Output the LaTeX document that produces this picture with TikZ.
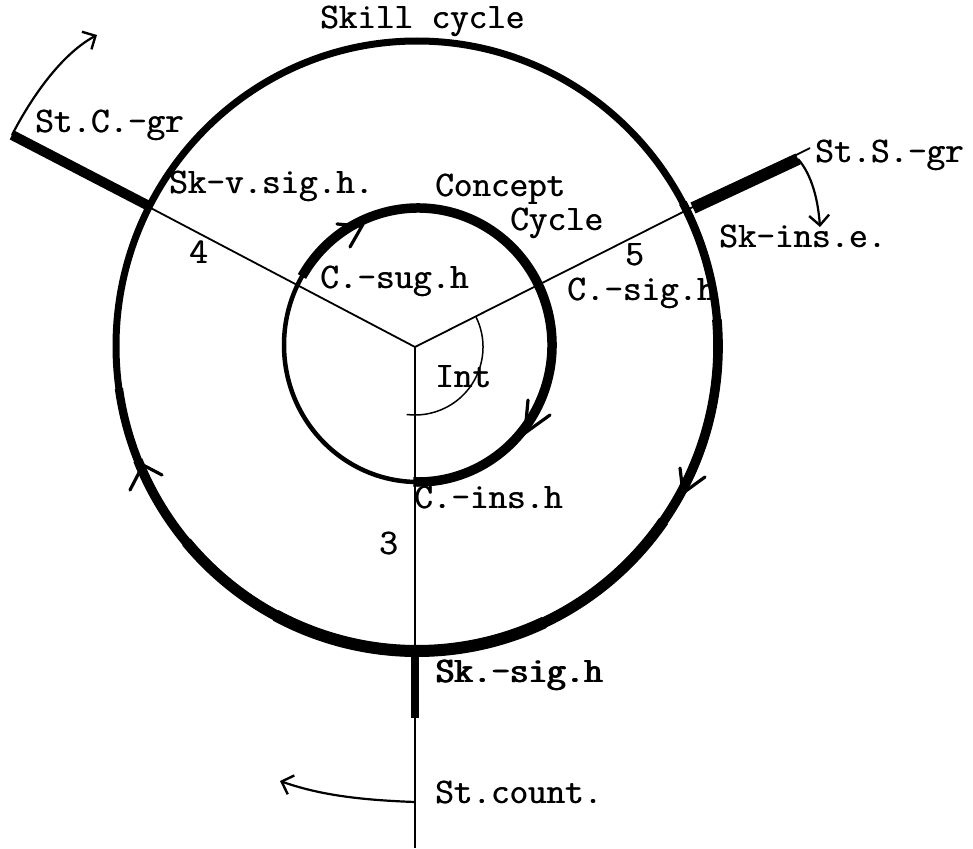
\documentclass[tikz,border=0pt]{standalone}
\usepackage{fontspec}
\usetikzlibrary{arrows.meta,calc}
\newcommand\twtext[1]{\makebox[0pt][l]{#1}\hspace*{0.7pt}#1}
\newcommand\twbold[1]{\makebox[0pt][l]{#1}\hspace*{0.9pt}\makebox[0pt][l]{#1}\hspace*{0.7pt}#1}
\tikzset{
  lbl/.style={anchor=base west, inner sep=0pt, font=\fontsize{36}{40}\selectfont\ttfamily},
  spoke/.style={line width=1.8pt},
  chev/.style={line width=3.2pt, line cap=round},
  pointer/.style={line width=2.2pt, -{Straight Barb[length=10pt,width=20pt,line width=2.4pt]}},
}
\begin{document}
\begin{tikzpicture}[x=1pt,y=1pt]
\useasboundingbox (0,0) rectangle (973,-848);
\coordinate (C) at (415,-347);
\coordinate (O) at (417,-346);
\coordinate (I) at (418,-345);
\coordinate (ULend) at (12,-135);
\coordinate (URend) at (810,-148);
\coordinate (Dend) at (415,-848);
\coordinate (ULx) at (147,-205);
\coordinate (URx) at (693,-208);
\coordinate (URthick) at (798,-159);
\coordinate (Dx) at (415,-652);
\coordinate (Dthick) at (415,-718);
\coordinate (cnt) at (415,-802);

% spokes
\draw[spoke] (C) -- (ULend);
\draw[spoke] (C) -- (URend);
\draw[spoke] (C) -- (Dend);

% outer (skill) cycle, thickening towards the bottom
\draw[line width=7pt] (O) ellipse [x radius=301, y radius=305];
\draw[line width=8.3pt] ($(O)+(28:301 and 305)$) arc[start angle=28, end angle=-172, x radius=301, y radius=305];
\draw[line width=9.6pt] ($(O)+(5:301 and 305)$) arc[start angle=5, end angle=-158, x radius=301, y radius=305];
\draw[line width=10.8pt] ($(O)+(-35:301 and 305)$) arc[start angle=-35, end angle=-140, x radius=301, y radius=305];
\draw[line width=12pt] ($(O)+(-65:301 and 305)$) arc[start angle=-65, end angle=-118, x radius=301, y radius=305];

% inner (concept) cycle
\draw[line width=4.5pt] (I) ellipse [x radius=134, y radius=137];
\draw[line width=9.5pt] ($(I)+(150:134 and 137)$) arc[start angle=150, end angle=-92, x radius=134, y radius=137];

% thick spoke parts
\draw[line width=10pt] (ULx) -- (ULend);
\draw[line width=12pt] (URx) -- (URthick);
\draw[line width=8pt] (Dx) -- (Dthick);

% direction chevrons
\draw[chev] (130,-490) -- (143,-465) -- (162,-475);
\draw[chev] (680,-468) -- (683,-493) -- (705,-477);
\draw[chev] (337,-224) -- (362,-226) -- (350,-247);
\draw[chev] (528,-400) -- (525,-433) -- (550,-415);

% Int arc
\draw[line width=1.5pt] ($(C)+(26:68)$) arc[start angle=26, end angle=-97, radius=68];

% outgoing arrows
\draw[pointer] (ULend) .. controls (30,-100) and (60,-55) .. (97,-35);
\draw[pointer] (URthick) .. controls (812,-175) and (818,-200) .. (820,-227);
\draw[pointer] (cnt) .. controls (360,-800) and (320,-795) .. (280,-781);

% labels
\node[lbl] (skc) at (320,-29) {\twtext{Skill cycle}};
\node[lbl] (stc) at (35,-132) {\twtext{St.C.-gr}};
\node[lbl] (skv) at (169,-193) {\twtext{Sk-v.sig.h.}};
\node[lbl] (n4) at (189,-263) {\twtext{4}};
\node[lbl] (con) at (435,-196) {\twtext{Concept}};
\node[lbl] (cyc) at (510,-230) {\twtext{Cycle}};
\node[lbl] (n5) at (625,-265) {\twtext{5}};
\node[lbl] (csig) at (567,-300) {\twtext{C.-sig.h}};
\node[lbl] (csug) at (320,-288) {\twtext{C.-sug.h}};
\node[lbl] (int) at (435,-387) {\twtext{Int}};
\node[lbl] (cins) at (414,-508) {\twtext{C.-ins.h}};
\node[lbl] (n3) at (379,-554) {\twtext{3}};
\node[lbl] (sksig) at (435,-682) {\twbold{Sk.-sig.h}};
\node[lbl] (stcount) at (435,-803) {\twtext{St.count.}};
\node[lbl] (sts) at (815,-162) {\twtext{St.S.-gr}};
\node[lbl] (skins) at (719,-247) {\twtext{Sk-ins.e.}};
\end{tikzpicture}
\end{document}
